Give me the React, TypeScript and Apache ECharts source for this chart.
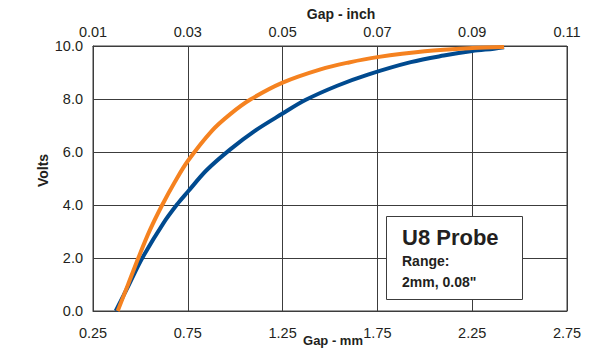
import React, { useEffect, useRef } from "react";
import * as echarts from "echarts";

// Gap in mm, Volts
const blueGapMm = [0.37, 0.44, 0.51, 0.62, 0.70, 0.75, 0.85, 0.974, 1.1, 1.25, 1.37, 1.538, 1.70, 1.926, 2.1, 2.25, 2.365, 2.418];
const blueVolts = [0, 1.0, 2.0, 3.3, 4.08, 4.5, 5.32, 6.1, 6.78, 7.45, 7.96, 8.5, 8.92, 9.39, 9.64, 9.81, 9.9, 9.95];

const orangeGapMm = [0.38, 0.435, 0.489, 0.55, 0.615, 0.68, 0.75, 0.877, 0.974, 1.08, 1.25, 1.45, 1.6, 1.75, 2.0, 2.25, 2.418];
const orangeVolts = [0, 1.0, 2.0, 3.05, 4.0, 4.85, 5.66, 6.8, 7.43, 7.98, 8.62, 9.12, 9.38, 9.58, 9.8, 9.92, 9.96];

const mmAxisMin = 0.25;
const mmAxisMax = 2.75;
const mmTickStep = 0.5;
const inchAxisMin = 0.01;
const inchPerMm = 0.04; // 0.01" at 0.25 mm, 0.11" at 2.75 mm on the printed scale
const voltTicks = [0, 2, 4, 6, 8, 10];

const boxTitle = "U8 Probe";
const boxLine1 = "Range:";
const boxLine2 = '2mm, 0.08"';

const TEXT = "#231f20";
const GRID = "#3c3c3c";
const FONT = "'Liberation Sans', Arial, sans-serif";
const BOLD = "'Liberation Sans', Arial, sans-serif";

export default function App() {
  const ref = useRef<HTMLDivElement>(null);
  useEffect(() => {
    if (!ref.current) return;
    const chart = echarts.init(ref.current, undefined, { renderer: "svg" });
    const toOffset = (mm: number[], v: number[]) => mm.map((m, i) => [m - mmAxisMin, v[i]]);
    const span = mmAxisMax - mmAxisMin;
    const labelStyle = { color: TEXT, fontFamily: FONT, fontSize: 14.5 };
    chart.setOption({
      animation: false,
      grid: {
        left: 93, right: 25, top: 46, bottom: 46,
        outerBoundsMode: "none",
        containLabel: false,
        show: true, borderColor: GRID, borderWidth: 1, backgroundColor: "transparent",
      },
      xAxis: [
        {
          type: "value",
          position: "bottom",
          min: 0,
          max: span,
          interval: mmTickStep,
          axisLine: { show: true, lineStyle: { color: GRID } },
          axisTick: { show: false },
          splitLine: { show: true, lineStyle: { color: GRID, width: 1 } },
          axisLabel: { ...labelStyle, margin: 14, formatter: (v: number) => (v + mmAxisMin).toFixed(2) },
          name: "Gap - mm",
          nameLocation: "middle",
          nameGap: 23,
          nameMoveOverlap: false,
          nameTextStyle: { color: TEXT, fontFamily: BOLD, fontWeight: "bold", fontSize: 13, padding: [0, 0, 0, 6] },
        },
        {
          type: "value",
          position: "top",
          min: 0,
          max: span,
          interval: mmTickStep,
          axisLine: { show: true, lineStyle: { color: GRID } },
          axisTick: { show: false },
          splitLine: { show: false },
          axisLabel: { ...labelStyle, margin: 7, formatter: (v: number) => (inchAxisMin + v * inchPerMm).toFixed(2) },
          name: "Gap - inch",
          nameLocation: "middle",
          nameGap: 25,
          nameMoveOverlap: false,
          nameTextStyle: { color: TEXT, fontFamily: BOLD, fontWeight: "bold", fontSize: 14, padding: [0, 0, 0, 22] },
        },
      ],
      yAxis: {
        type: "value",
        min: voltTicks[0],
        max: voltTicks[voltTicks.length - 1],
        interval: voltTicks[1] - voltTicks[0],
        axisLine: { show: true, lineStyle: { color: GRID } },
        axisTick: { show: false },
        splitLine: { show: true, lineStyle: { color: GRID, width: 1 } },
        axisLabel: { ...labelStyle, margin: 10, formatter: (v: number) => v.toFixed(1) },
        name: "Volts",
        nameLocation: "middle",
        nameGap: 43,
        nameMoveOverlap: false,
        nameTextStyle: { color: TEXT, fontFamily: BOLD, fontWeight: "bold", fontSize: 14, padding: [0, 0, 0, 16] },
      },
      series: [
        {
          type: "line",
          xAxisIndex: 0,
          data: toOffset(blueGapMm, blueVolts),
          smooth: 0.35,
          showSymbol: false,
          lineStyle: { color: "#004a8f", width: 4, cap: "butt" },
          z: 3,
        },
        {
          type: "line",
          xAxisIndex: 0,
          data: toOffset(orangeGapMm, orangeVolts),
          smooth: 0.35,
          showSymbol: false,
          lineStyle: { color: "#f58220", width: 4, cap: "butt" },
          z: 4,
        },
      ],
      graphic: [
        {
          type: "rect",
          left: 386,
          top: 216,
          shape: { width: 136, height: 83 },
          style: { fill: "#ffffff", stroke: GRID, lineWidth: 1 },
          z: 10,
        },
        {
          type: "text",
          left: 402,
          top: 226,
          style: { text: boxTitle, fill: TEXT, font: `bold 22px ${BOLD}` },
          z: 11,
        },
        {
          type: "text",
          left: 402,
          top: 254,
          style: { text: boxLine1, fill: TEXT, font: `bold 14px ${BOLD}` },
          z: 11,
        },
        {
          type: "text",
          left: 402,
          top: 275,
          style: { text: boxLine2, fill: TEXT, font: `bold 14px ${BOLD}` },
          z: 11,
        },
      ],
    });
    return () => chart.dispose();
  }, []);
  return <div ref={ref} style={{ position: "fixed", left: 0, top: 0, width: 592, height: 357, background: "#fff" }} />;
}
